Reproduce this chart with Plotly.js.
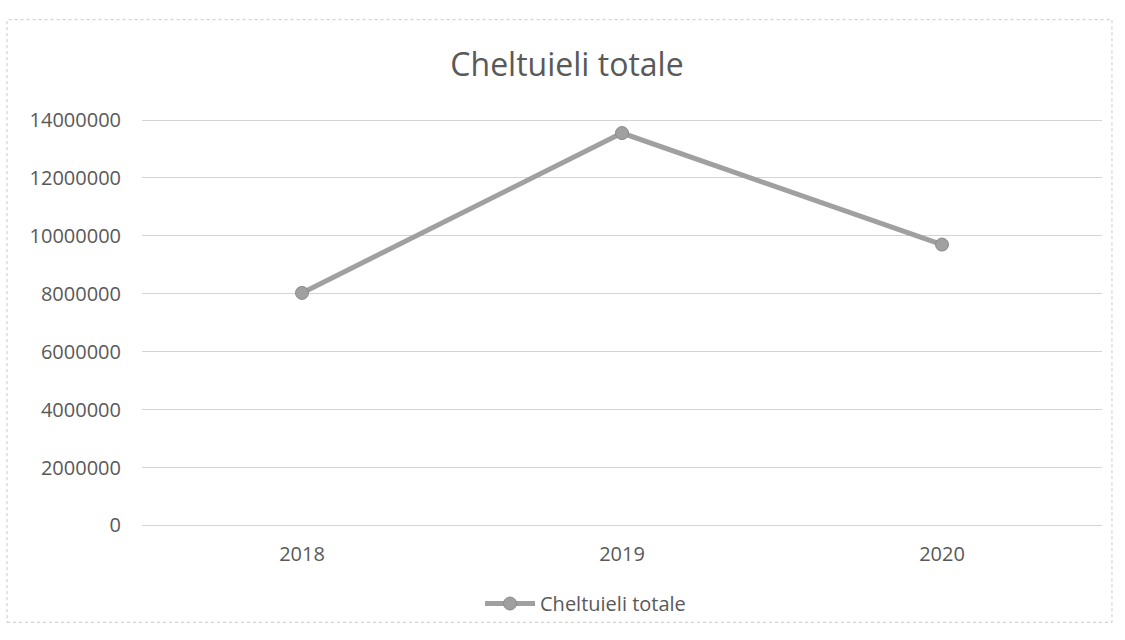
<!DOCTYPE html>
<html>
<head>
<meta charset="utf-8">
<script src="https://cdn.plot.ly/plotly-3.0.1.min.js"></script>
<style>html,body{margin:0;padding:0;background:#fff;}#chart{width:1125px;height:640px;}</style>
</head>
<body>
<div id="chart"></div>
<script>
const years = ['2018', '2019', '2020'];
const cheltuieliTotale = [8030000, 13550000, 9700000];
const yTicks = [0, 2000000, 4000000, 6000000, 8000000, 10000000, 12000000, 14000000];
const seriesName = 'Cheltuieli totale';
const chartTitle = 'Cheltuieli totale';

const textColor = '#595959';
const font = 'Open Sans, sans-serif';

Plotly.newPlot('chart', [{
  x: years,
  y: cheltuieliTotale,
  type: 'scatter',
  mode: 'lines+markers',
  name: seriesName,
  line: {color: '#a0a0a0', width: 5},
  marker: {color: '#a0a0a0', size: 13, line: {color: '#8a8a8a', width: 1}}
}], {
  width: 1125,
  height: 640,
  margin: {l: 142, r: 23, t: 118, b: 114},
  paper_bgcolor: '#ffffff',
  plot_bgcolor: '#ffffff',
  font: {family: font, color: textColor, size: 20},
  title: {text: chartTitle, font: {family: font, size: 32, color: textColor}, x: 0.504, xanchor: 'center', y: 0.898, yanchor: 'middle'},
  showlegend: true,
  legend: {orientation: 'h', x: 0.462, xanchor: 'center', y: -0.19, yanchor: 'middle', itemwidth: 50, bgcolor: 'rgba(0,0,0,0)', font: {family: font, size: 20, color: textColor}},
  xaxis: {
    type: 'category',
    range: [-0.5, 2.5],
    showgrid: false,
    zeroline: false,
    showline: false,
    ticks: '',
    ticklabelstandoff: 14,
    tickfont: {family: font, size: 20, color: textColor},
    fixedrange: true
  },
  yaxis: {
    range: [-20000, 14070000],
    tickvals: yTicks,
    ticktext: yTicks.map(v => String(v)),
    showgrid: true,
    gridcolor: '#d4d4d4',
    gridwidth: 1,
    zeroline: true,
    zerolinecolor: '#d4d4d4',
    zerolinewidth: 1,
    showline: false,
    ticks: '',
    ticklabelstandoff: 20,
    tickfont: {family: font, size: 20, color: textColor},
    fixedrange: true
  },
  shapes: [{
    type: 'rect', xref: 'paper', yref: 'paper',
    x0: -0.1406, x1: 1.0104, y0: -0.236, y1: 1.241,
    line: {color: '#c8c8c8', width: 1, dash: 'dot'}
  }]
}, {displayModeBar: false, staticPlot: true});
</script>
</body>
</html>
